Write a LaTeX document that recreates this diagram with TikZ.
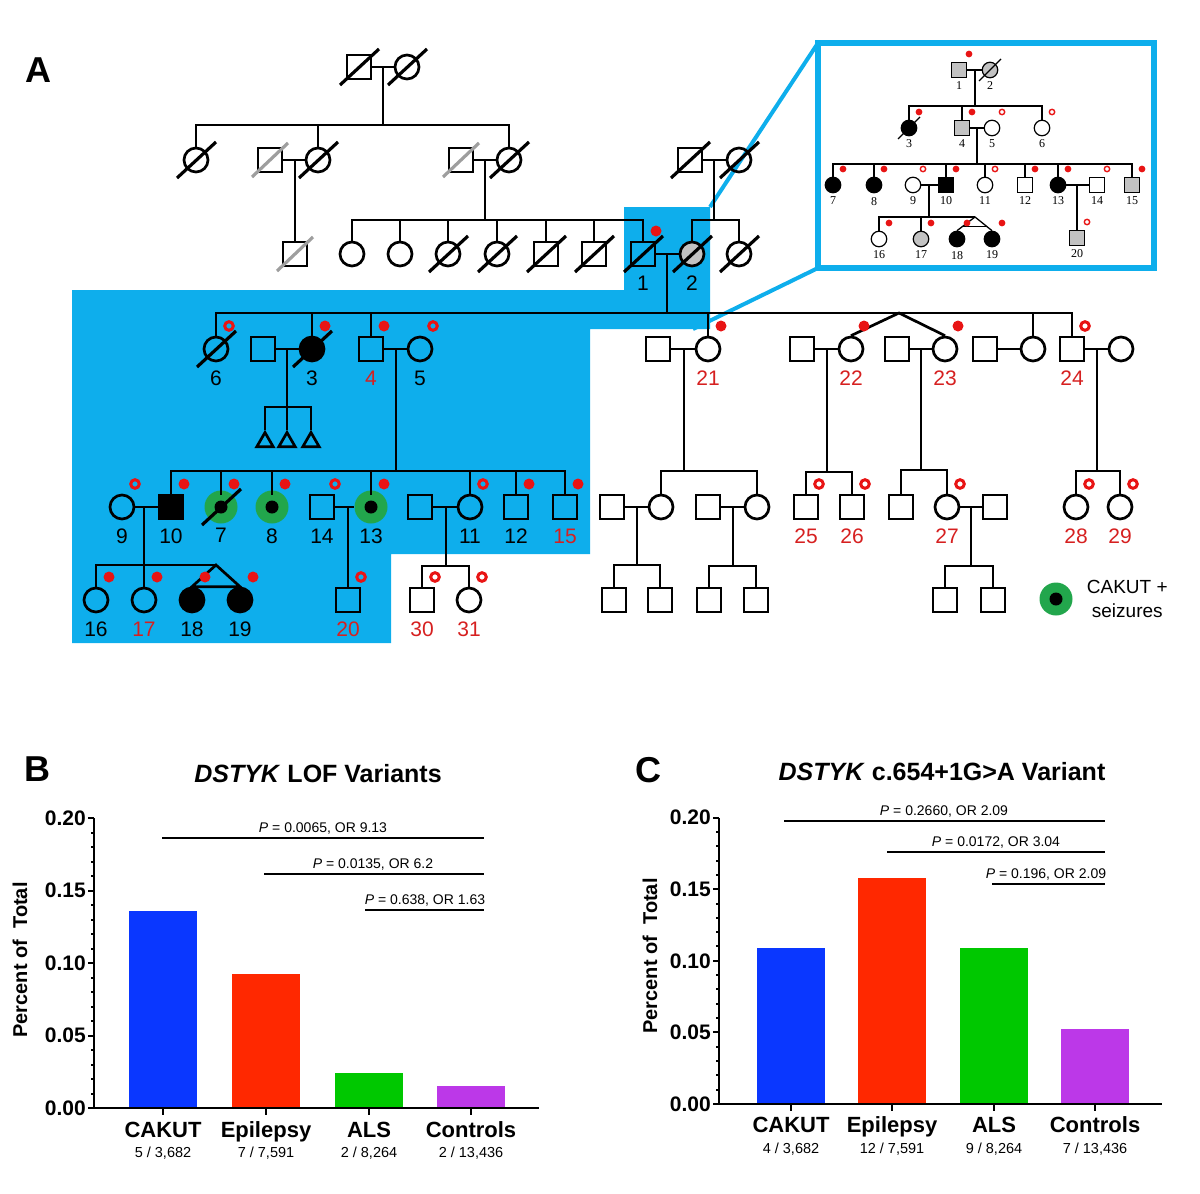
\documentclass[tikz,border=0pt]{standalone}
\usepackage{fontspec}
\setmainfont{Liberation Sans}
\newfontfamily\inserif{Liberation Serif}
\usepackage{tikz}
\usetikzlibrary{shapes.geometric, calc, positioning}

\definecolor{hiblue}{RGB}{14,174,236}
\definecolor{dotred}{RGB}{232,20,20}
\definecolor{numred}{RGB}{214,32,32}
\definecolor{ringgreen}{RGB}{34,166,76}
\definecolor{carrgray}{RGB}{194,194,194}
\definecolor{slashgray}{RGB}{158,158,158}
\definecolor{barblue}{RGB}{10,55,255}
\definecolor{barred}{RGB}{255,40,0}
\definecolor{bargreen}{RGB}{0,200,0}
\definecolor{barpurple}{RGB}{188,56,232}

\newcommand{\idsize}{\fontsize{21}{21}\selectfont}
\newcommand{\insize}{\inserif\fontsize{12}{12}\selectfont}

\begin{document}
\begin{tikzpicture}[
  x=1pt, y=-1pt,
  every node/.style={inner sep=0pt},
  ind/.style={draw, line width=2.7pt, minimum size=24pt},
  male/.style={ind, rectangle},
  female/.style={ind, circle},
  aff/.style={fill=black},
  carrier/.style={fill=carrgray},
  cakut/.style={circle, fill=ringgreen, minimum size=33pt,
    path picture={\fill[black] (path picture bounding box.center) circle (6.5pt);}},
  unborn/.style={draw, line width=2.7pt, regular polygon, regular polygon sides=3, minimum size=19pt},
  idlbl/.style={font=\idsize, label distance=8.5pt},
  num/.style={label={[idlbl, name=lab#1]below:#1}},
  rnum/.style={label={[idlbl, text=numred, name=lab#1]below:#1}},
  cnum/.style={label={[idlbl, label distance=4.5pt, name=lab#1]below:#1}},
  kin/.style={line width=2.7pt},
  dslash/.style={line width=3.2pt},
  zoomln/.style={hiblue, line width=4pt},
  imale/.style={draw, line width=1.2pt, rectangle, minimum size=15pt},
  ifemale/.style={draw, line width=1.2pt, circle, minimum size=15.5pt},
  inum/.style={label={[font=\insize, label distance=3.5pt, name=ilab#1]below:#1}},
  iline/.style={line width=1.3pt},
  axln/.style={line width=2pt},
  ytl/.style={font=\fontsize{21}{21}\selectfont\bfseries, anchor=east},
  catl/.style={font=\fontsize{22}{22}\selectfont\bfseries, anchor=base},
  cntl/.style={font=\fontsize{14.5}{14.5}\selectfont, anchor=base},
  sigtxt/.style={font=\fontsize{14}{14}\selectfont, anchor=base},
  sigline/.style={line width=2pt},
  panel/.style={font=\fontsize{36}{36}\selectfont\bfseries},
  ttl/.style={font=\fontsize{25}{25}\selectfont\bfseries, anchor=base},
  ylab/.style={font=\fontsize{20}{20}\selectfont\bfseries, rotate=90}
]
\useasboundingbox (0,0) rectangle (1200,1194);

% Highlight and inset frame
\fill[hiblue] (624,207) -- (710,207) -- (710,329) -- (590,329) -- (590,554)
  -- (391,554) -- (391,643) -- (72,643) -- (72,290) -- (624,290) -- cycle;
\node[draw=hiblue, line width=5.5pt, outer sep=0pt, minimum width=336pt, minimum height=225pt] (insetbox) at (986,155.5) {};
\coordinate (zoomA) at (710,207);
\coordinate (zoomB) at (693,329);
\draw[zoomln] (zoomA) -- (insetbox.north west);
\draw[zoomln] (zoomB) -- (insetbox.south west);

\node[panel] (panelA) at (38,70) {A};

% Nodes: generations I-III
\node[male] (gIa) at (359,67) {};
\node[female] (gIb) at (407,67) {};
\node[female] (gIIa) at (196,160) {};
\node[male] (gIIb) at (270,160) {};
\node[female] (gIIc) at (318,160) {};
\node[male] (gIId) at (461,160) {};
\node[female] (gIIe) at (509,160) {};
\node[male] (gIIf) at (690,160) {};
\node[female] (gIIg) at (739,160) {};
\node[male] (gIIIa) at (295,254) {};
\node[female] (gIIIb) at (352,254) {};
\node[female] (gIIIc) at (400,254) {};
\node[female] (gIIId) at (448,254) {};
\node[female] (gIIIe) at (497,254) {};
\node[male] (gIIIf) at (546,254) {};
\node[male] (gIIIg) at (594,254) {};
\node[male, num=1] (p1) at (643,254) {};
\node[female, carrier, num=2] (p2) at (692,254) {};
\node[female] (gIIIh) at (739,254) {};

% Nodes: generation IV
\node[female, num=6] (p6) at (216,349) {};
\node[male] (x3) at (263,349) {};
\node[female, aff, num=3] (p3) at (312,349) {};
\node[male, rnum=4] (p4) at (371,349) {};
\node[female, num=5] (p5) at (420,349) {};
\node[male] (x21) at (658,349) {};
\node[female, rnum=21] (p21) at (708,349) {};
\node[male] (x22) at (802,349) {};
\node[female, rnum=22] (p22) at (851,349) {};
\node[male] (x23) at (897,349) {};
\node[female, rnum=23] (p23) at (945,349) {};
\node[male] (xs) at (985,349) {};
\node[female] (ps) at (1033,349) {};
\node[male, rnum=24] (p24) at (1072,349) {};
\node[female] (x24) at (1121,349) {};
\node[unborn] (u1) at (265,442) {};
\node[unborn] (u2) at (287,442) {};
\node[unborn] (u3) at (311,442) {};

% Nodes: generation V
\node[female, num=9] (p9) at (122,507) {};
\node[male, aff, num=10] (p10) at (171,507) {};
\node[cakut, cnum=7] (p7) at (221,507) {};
\node[cakut, cnum=8] (p8) at (272,507) {};
\node[male, num=14] (p14) at (322,507) {};
\node[cakut, cnum=13] (p13) at (371,507) {};
\node[male] (x11) at (420,507) {};
\node[female, num=11] (p11) at (470,507) {};
\node[male, num=12] (p12) at (516,507) {};
\node[male, rnum=15] (p15) at (565,507) {};
\node[male] (xa) at (612,507) {};
\node[female] (ca) at (661,507) {};
\node[male] (xb) at (708,507) {};
\node[female] (cb) at (757,507) {};
\node[male, rnum=25] (p25) at (806,507) {};
\node[male, rnum=26] (p26) at (852,507) {};
\node[male] (cc) at (901,507) {};
\node[female, rnum=27] (p27) at (947,507) {};
\node[male] (x27) at (995,507) {};
\node[female, rnum=28] (p28) at (1076,507) {};
\node[female, rnum=29] (p29) at (1120,507) {};

% Nodes: generation VI
\node[female, num=16] (p16) at (96,600) {};
\node[female, rnum=17] (p17) at (144,600) {};
\node[female, aff, num=18] (p18) at (192,600) {};
\node[female, aff, num=19] (p19) at (240,600) {};
\node[male, rnum=20] (p20) at (348,600) {};
\node[male, rnum=30] (p30) at (422,600) {};
\node[female, rnum=31] (p31) at (469,600) {};
\node[male] (ka1) at (614,600) {};
\node[male] (ka2) at (660,600) {};
\node[male] (kb1) at (709,600) {};
\node[male] (kb2) at (756,600) {};
\node[male] (kc1) at (945,600) {};
\node[male] (kc2) at (993,600) {};

% Legend
\node[cakut] (legring) at (1056,599) {};
\node[font=\fontsize{19}{24}\selectfont, align=center, right=14pt of legring] (legtxt) {CAKUT +\\seizures};

% Lines: generations I-III
\coordinate (mI) at (383,67);   \coordinate (sII) at (383,125);
\coordinate (mIIa) at (295,160);
\coordinate (mIIb) at (485,160); \coordinate (sIIIa) at (485,220);
\coordinate (mIIc) at (714,160); \coordinate (sIIIb) at (714,220);
\coordinate (m12) at (667,254);  \coordinate (sIV) at (667,313);
\draw[kin] (gIa) -- (gIb);
\draw[kin] (mI) -- (sII);
\draw[kin] (gIIa.north) |- (sII) -| (gIIe.north);
\draw[kin] (gIIc.north) -- (gIIc |- sII);
\draw[kin] (gIIb) -- (gIIc);
\draw[kin] (mIIa) -- (gIIIa);
\draw[kin] (gIId) -- (gIIe);
\draw[kin] (mIIb) -- (sIIIa);
\draw[kin] (gIIIb.north) |- (sIIIa) -| (p1.north);
\foreach \n in {gIIIc,gIIId,gIIIe,gIIIf,gIIIg} \draw[kin] (\n.north) -- (\n |- sIIIa);
\draw[kin] (gIIf) -- (gIIg);
\draw[kin] (mIIc) -- (sIIIb);
\draw[kin] (p2.north) |- (sIIIb) -| (gIIIh.north);
\draw[kin] (p1) -- (p2);
\draw[kin] (m12) -- (sIV);

% Lines: generation IV
\draw[kin] (p6.north) |- (sIV) -| (p24.north);
\foreach \n in {p3,p4,p21,ps} \draw[kin] (\n.north) -- (\n |- sIV);
\coordinate (tw22) at (899,313);
\draw[kin] (p22.north) -- (tw22) -- (p23.north);
\draw[kin] (x3) -- (p3);
\coordinate (m3) at (287,349); \coordinate (s3) at (287,407);
\draw[kin] (m3) -- (u2.north);
\draw[kin] (u1.north) |- (s3) -| (u3.north);
\draw[kin] (p4) -- (p5);
\coordinate (m45) at (396,349); \coordinate (sV) at (396,471);
\draw[kin] (m45) -- (sV);
\draw[kin] (x21) -- (p21);
\coordinate (m21) at (684,349); \coordinate (s21) at (684,471);
\draw[kin] (m21) -- (s21);
\draw[kin] (x22) -- (p22);
\coordinate (m22) at (827,349); \coordinate (s22) at (827,472);
\draw[kin] (m22) -- (s22);
\draw[kin] (x23) -- (p23);
\coordinate (m23) at (921,349); \coordinate (s23) at (921,470);
\draw[kin] (m23) -- (s23);
\draw[kin] (xs) -- (ps);
\draw[kin] (p24) -- (x24);
\coordinate (m24) at (1097,349); \coordinate (s24) at (1097,471);
\draw[kin] (m24) -- (s24);

% Lines: generations V-VI
\draw[kin] (p10.north) |- (sV) -| (p15.north);
\foreach \n in {p11,p12} \draw[kin] (\n.north) -- (\n |- sV);
\foreach \n in {p7,p8,p13} \draw[kin] (\n |- sV) -- ([yshift=12pt]\n.center);
\draw[kin] (p9) -- (p10);
\coordinate (m910) at (144,507); \coordinate (tw18) at (216,565);
\draw[kin] (m910) -- (p17);
\draw[kin] (p16.north) |- (tw18);
\draw[kin] (p18.north) -- (tw18) -- (p19.north) -- cycle;
\draw[kin] (p14) -- (p13);
\coordinate (m1314) at (348,507);
\draw[kin] (m1314) -- (p20);
\draw[kin] (x11) -- (p11);
\coordinate (m11) at (446,507); \coordinate (s11) at (446,566);
\draw[kin] (m11) -- (s11);
\draw[kin] (p30.north) |- (s11) -| (p31.north);
\draw[kin] (ca.north) |- (s21) -| (cb.north);
\draw[kin] (xa) -- (ca);
\coordinate (ma) at (637,507); \coordinate (sa) at (637,565);
\draw[kin] (ma) -- (sa);
\draw[kin] (ka1.north) |- (sa) -| (ka2.north);
\draw[kin] (xb) -- (cb);
\coordinate (mb) at (733,507); \coordinate (sb) at (733,566);
\draw[kin] (mb) -- (sb);
\draw[kin] (kb1.north) |- (sb) -| (kb2.north);
\draw[kin] (p25.north) |- (s22) -| (p26.north);
\draw[kin] (cc.north) |- (s23) -| (p27.north);
\draw[kin] (p27) -- (x27);
\coordinate (m27) at (971,507); \coordinate (s27) at (971,566);
\draw[kin] (m27) -- (s27);
\draw[kin] (kc1.north) |- (s27) -| (kc2.north);
\draw[kin] (p28.north) |- (s24) -| (p29.north);

% Deceased and markers
\foreach \n in {gIa,gIb,gIIa,gIIc,gIIe,gIIf,gIIg,gIIId,gIIIe,gIIIf,gIIIg,p1,p2,gIIIh,p6,p3,p7}
  \draw[dslash] ([shift={(-19,18)}]\n.center) -- ([shift={(20,-18)}]\n.center);
\foreach \n in {gIIb,gIId,gIIIa}
  \draw[dslash, slashgray] ([shift={(-18,17)}]\n.center) -- ([shift={(18,-17)}]\n.center);
\foreach \n in {p1,p3,p4,p21,p22,p23,p10,p7,p8,p13,p12,p15,p16,p17,p18,p19}
  \fill[dotred] ([shift={(13,-23)}]\n.center) circle (5.5pt);
\foreach \n in {p6,p5,p24,p9,p14,p11,p20,p30,p31,p25,p26,p27,p28,p29}
  \draw[dotred, line width=3pt] ([shift={(13,-23)}]\n.center) circle (4.3pt);

% Inset pedigree
\node[imale, carrier, inum=1] (i1) at (959,70) {};
\node[ifemale, carrier, inum=2] (i2) at (990,70) {};
\node[ifemale, aff, inum=3] (i3) at (909,128) {};
\node[imale, carrier, inum=4] (i4) at (962,128) {};
\node[ifemale, inum=5] (i5) at (992,128) {};
\node[ifemale, inum=6] (i6) at (1042,128) {};
\node[ifemale, aff, inum=7] (i7) at (833,185) {};
\node[ifemale, aff, inum=8] (i8) at (874,185) {};
\node[ifemale, inum=9] (i9) at (913,185) {};
\node[imale, aff, inum=10] (i10) at (946,185) {};
\node[ifemale, inum=11] (i11) at (985,185) {};
\node[imale, inum=12] (i12) at (1025,185) {};
\node[ifemale, aff, inum=13] (i13) at (1058,185) {};
\node[imale, inum=14] (i14) at (1097,185) {};
\node[imale, carrier, inum=15] (i15) at (1132,185) {};
\node[ifemale, inum=16] (i16) at (879,239) {};
\node[ifemale, carrier, inum=17] (i17) at (921,239) {};
\node[ifemale, aff, inum=18] (i18) at (957,239) {};
\node[ifemale, aff, inum=19] (i19) at (992,239) {};
\node[imale, carrier, inum=20] (i20) at (1077,238) {};

\coordinate (im12) at (975,70); \coordinate (is2) at (975,106);
\coordinate (im45) at (977,128); \coordinate (is3) at (977,164);
\coordinate (im910) at (929,185); \coordinate (is4) at (929,217);
\coordinate (itw) at (975,217); \coordinate (im1314) at (1077,185);
\draw[iline] (i1) -- (i2);
\draw[iline] (im12) -- (is2);
\draw[iline] (i3.north) |- (is2) -| (i6.north);
\draw[iline] (i4.north) -- (i4 |- is2);
\draw[iline] (i4) -- (i5);
\draw[iline] (im45) -- (is3);
\draw[iline] (i7.north) |- (is3) -| (i15.north);
\foreach \n in {i8,i10,i11,i12,i13} \draw[iline] (\n.north) -- (\n |- is3);
\draw[iline] (i9) -- (i10);
\draw[iline] (im910) -- (is4);
\draw[iline] (i16.north) |- (itw);
\draw[iline] (i17.north) -- (i17 |- is4);
\draw[iline] (i18.north) -- (itw) -- (i19.north);
\draw[iline] ($(itw)!0.7!(i18.north)$) -- ($(itw)!0.7!(i19.north)$);
\draw[iline] (i13) -- (i14);
\draw[iline] (im1314) -- (i20);
\foreach \n in {i2,i3}
  \draw[iline] ([shift={(-11,11)}]\n.center) -- ([shift={(11,-11)}]\n.center);
\foreach \n in {i1,i3,i4,i7,i8,i10,i12,i13,i15,i16,i17,i18,i19}
  \fill[dotred] ([shift={(10,-16)}]\n.center) circle (3.4pt);
\foreach \n in {i5,i6,i9,i11,i14,i20}
  \draw[dotred, line width=1.4pt] ([shift={(10,-16)}]\n.center) circle (2.7pt);

% Panel B
\node[panel] (panelB) at (37,769) {B};
\node[ttl] (titleB) at (318,782) {\textit{DSTYK} LOF Variants};
\foreach \c/\v/\col in {163/0.13580/barblue, 266/0.09222/barred, 369/0.02420/bargreen, 471/0.01489/barpurple}
  \fill[\col] (\c-34,1108) rectangle (\c+34,{1108-\v*1450});
\draw[axln] (94,818) -- (94,1108) -- (539,1108);
\foreach \k in {1,...,19} \draw[axln] (94,{1108-\k*14.5}) -- ++(-3.5,0);
\foreach \k/\t in {0/0.00,1/0.05,2/0.10,3/0.15,4/0.20} {
  \draw[axln] (94,{1108-\k*72.5}) -- ++(-6,0);
  \node[ytl] (tB\k) at (86,{1108-\k*72.5}) {\t};
}
\foreach \c in {163,266,369,471} \draw[axln] (\c,1108) -- ++(0,7);
\node[ylab] (ylabB) at (20,960) {Percent of~~Total};
\node[catl] (catB1) at (163,1137) {CAKUT};
\node[catl] (catB2) at (266,1137) {Epilepsy};
\node[catl] (catB3) at (369,1137) {ALS};
\node[catl] (catB4) at (471,1137) {Controls};
\node[cntl] (cntB1) at (163,1157) {5 / 3,682};
\node[cntl] (cntB2) at (266,1157) {7 / 7,591};
\node[cntl] (cntB3) at (369,1157) {2 / 8,264};
\node[cntl] (cntB4) at (471,1157) {2 / 13,436};
\draw[sigline] (162,838) -- (484,838);
\draw[sigline] (264,874) -- (484,874);
\draw[sigline] (365,910) -- (484,910);
\node[sigtxt] (pB1) at (323,832) {\textit{P} = 0.0065, OR 9.13};
\node[sigtxt] (pB2) at (373,868) {\textit{P} = 0.0135, OR 6.2};
\node[sigtxt] (pB3) at (425,904) {\textit{P} = 0.638, OR 1.63};

% Panel C
\node[panel] (panelC) at (648,770) {C};
\node[ttl] (titleC) at (942,780) {\textit{DSTYK} c.654+1G>A Variant};
\foreach \c/\v/\col in {791/0.10864/barblue, 892/0.15808/barred, 994/0.10891/bargreen, 1095/0.05210/barpurple}
  \fill[\col] (\c-34,1104) rectangle (\c+34,{1104-\v*1432});
\draw[axln] (719,818) -- (719,1104) -- (1162,1104);
\foreach \k in {1,...,19} \draw[axln] (719,{1104-\k*14.32}) -- ++(-3.5,0);
\foreach \k/\t in {0/0.00,1/0.05,2/0.10,3/0.15,4/0.20} {
  \draw[axln] (719,{1104-\k*71.6}) -- ++(-6,0);
  \node[ytl] (tC\k) at (711,{1104-\k*71.6}) {\t};
}
\foreach \c in {791,892,994,1095} \draw[axln] (\c,1104) -- ++(0,7);
\node[ylab] (ylabC) at (650,956) {Percent of~~Total};
\node[catl] (catC1) at (791,1132) {CAKUT};
\node[catl] (catC2) at (892,1132) {Epilepsy};
\node[catl] (catC3) at (994,1132) {ALS};
\node[catl] (catC4) at (1095,1132) {Controls};
\node[cntl] (cntC1) at (791,1153) {4 / 3,682};
\node[cntl] (cntC2) at (892,1153) {12 / 7,591};
\node[cntl] (cntC3) at (994,1153) {9 / 8,264};
\node[cntl] (cntC4) at (1095,1153) {7 / 13,436};
\draw[sigline] (784,821) -- (1105,821);
\draw[sigline] (887,852) -- (1105,852);
\draw[sigline] (992,884) -- (1105,884);
\node[sigtxt] (pC1) at (944,815) {\textit{P} = 0.2660, OR 2.09};
\node[sigtxt] (pC2) at (996,846) {\textit{P} = 0.0172, OR 3.04};
\node[sigtxt] (pC3) at (1046,878) {\textit{P} = 0.196, OR 2.09};

\end{tikzpicture}
\end{document}
